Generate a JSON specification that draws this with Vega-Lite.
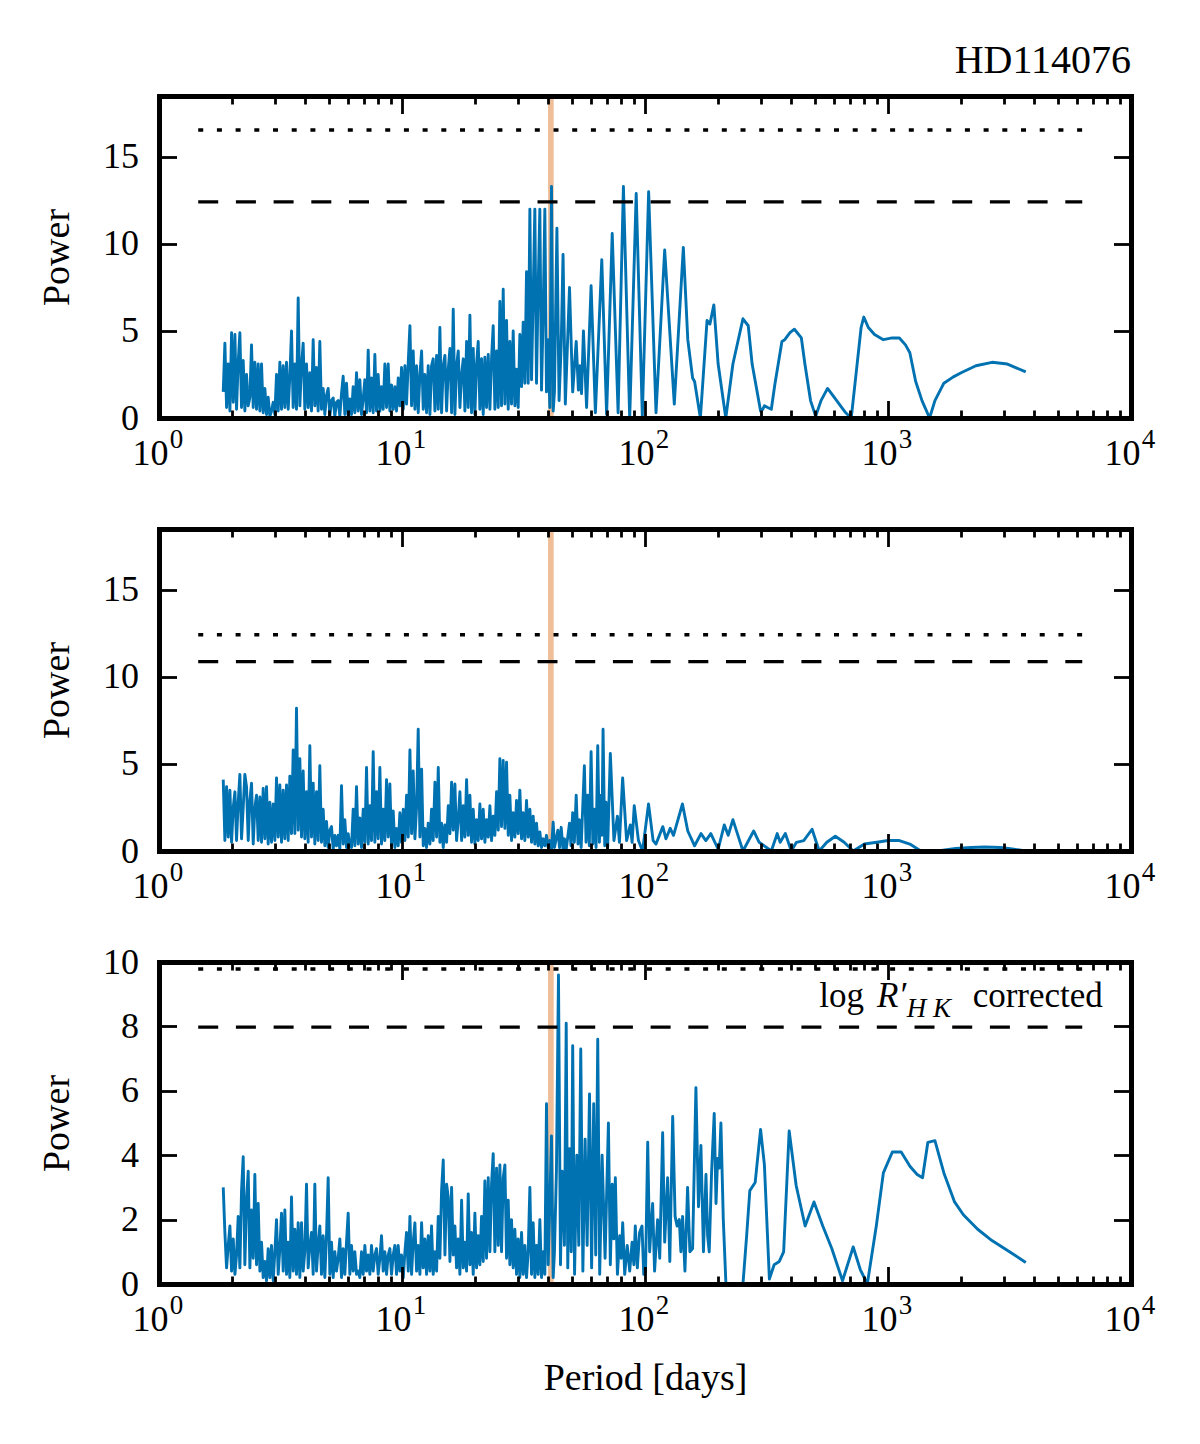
{
 "$schema": "https://vega.github.io/schema/vega-lite/v6.json",
 "background": "white",
 "padding": {"left": 38, "top": 40, "right": 5, "bottom": 5},
 "spacing": 111,
 "bounds": "flush",
 "config": {
  "view": {"stroke": null},
  "font": "Liberation Serif",
  "axis": {"domainColor": "black", "domainWidth": 5, "domainCap": "square", "tickColor": "black", "tickWidth": 2.8, "tickCap": "butt", "labelFont": "Liberation Serif", "labelFontSize": 36, "labelColor": "black", "titleFont": "Liberation Serif", "titleFontSize": 38, "titleFontWeight": "normal", "titleColor": "black", "grid": false, "labelFlush": false, "labelOverlap": false, "labelBound": false},
  "title": {"font": "Liberation Serif", "fontSize": 40, "fontWeight": "normal", "color": "black"}
 },
 "datasets": {
  "p1": [
{"p":1.838,"v":1.5},{"p":1.867,"v":4.3},{"p":1.897,"v":0.6},{"p":1.927,"v":3.1},{"p":1.958,"v":0.4},{"p":1.989,"v":4.9},{"p":2.021,"v":0.9},{"p":2.053,"v":4.8},{"p":2.085,"v":0.5},{"p":2.118,"v":3.2},{"p":2.152,"v":4.9},{"p":2.186,"v":0.6},{"p":2.221,"v":3.3},{"p":2.256,"v":0.4},{"p":2.292,"v":2.5},{"p":2.329,"v":0.7},{"p":2.366,"v":1.2},{"p":2.403,"v":4.2},{"p":2.442,"v":0.6},{"p":2.48,"v":3.2},{"p":2.52,"v":0.5},{"p":2.56,"v":3.1},{"p":2.601,"v":0.4},{"p":2.642,"v":3.1},{"p":2.684,"v":0.3},{"p":2.727,"v":1.7},{"p":2.77,"v":0.2},{"p":2.814,"v":1.2},{"p":2.859,"v":0.1},{"p":2.904,"v":0.4},{"p":2.951,"v":0.9},{"p":2.998,"v":0.2},{"p":3.045,"v":2.5},{"p":3.094,"v":0.4},{"p":3.143,"v":3.2},{"p":3.193,"v":0.5},{"p":3.244,"v":3.0},{"p":3.295,"v":0.6},{"p":3.348,"v":3.2},{"p":3.401,"v":0.5},{"p":3.455,"v":2.4},{"p":3.51,"v":5.0},{"p":3.566,"v":0.6},{"p":3.623,"v":3.1},{"p":3.68,"v":0.5},{"p":3.739,"v":6.9},{"p":3.798,"v":0.7},{"p":3.859,"v":3.0},{"p":3.92,"v":4.3},{"p":3.982,"v":0.5},{"p":4.046,"v":3.1},{"p":4.11,"v":0.6},{"p":4.176,"v":2.6},{"p":4.242,"v":0.4},{"p":4.31,"v":4.5},{"p":4.378,"v":0.7},{"p":4.448,"v":2.9},{"p":4.518,"v":0.4},{"p":4.59,"v":4.4},{"p":4.663,"v":0.5},{"p":4.738,"v":1.7},{"p":4.813,"v":0.2},{"p":4.89,"v":1.3},{"p":4.968,"v":1.7},{"p":5.047,"v":0.1},{"p":5.127,"v":1.0},{"p":5.209,"v":1.15},{"p":5.292,"v":0.1},{"p":5.376,"v":0.9},{"p":5.462,"v":1.0},{"p":5.549,"v":0.1},{"p":5.637,"v":1.4},{"p":5.727,"v":2.4},{"p":5.818,"v":0.2},{"p":5.911,"v":2.0},{"p":6.005,"v":0.1},{"p":6.1,"v":1.1},{"p":6.198,"v":0.2},{"p":6.296,"v":1.8},{"p":6.397,"v":0.3},{"p":6.499,"v":2.6},{"p":6.602,"v":0.4},{"p":6.707,"v":2.2},{"p":6.814,"v":0.2},{"p":6.923,"v":1.1},{"p":7.033,"v":2.2},{"p":7.145,"v":0.3},{"p":7.259,"v":3.9},{"p":7.374,"v":0.4},{"p":7.492,"v":2.3},{"p":7.611,"v":0.3},{"p":7.732,"v":3.65},{"p":7.855,"v":0.4},{"p":7.98,"v":2.5},{"p":8.108,"v":0.4},{"p":8.237,"v":1.8},{"p":8.368,"v":0.5},{"p":8.501,"v":3.1},{"p":8.637,"v":0.6},{"p":8.774,"v":3.1},{"p":8.914,"v":0.4},{"p":9.056,"v":1.9},{"p":9.2,"v":0.5},{"p":9.347,"v":1.8},{"p":9.496,"v":0.4},{"p":9.647,"v":2.3},{"p":9.801,"v":0.7},{"p":9.957,"v":2.9},{"p":10.12,"v":0.5},{"p":10.28,"v":3.0},{"p":10.44,"v":0.8},{"p":10.61,"v":3.2},{"p":10.78,"v":5.3},{"p":10.95,"v":0.7},{"p":11.12,"v":3.85},{"p":11.3,"v":0.5},{"p":11.48,"v":3.0},{"p":11.66,"v":0.3},{"p":11.85,"v":2.5},{"p":12.04,"v":3.85},{"p":12.23,"v":0.5},{"p":12.42,"v":2.5},{"p":12.62,"v":0.3},{"p":12.82,"v":3.0},{"p":13.03,"v":0.2},{"p":13.23,"v":3.0},{"p":13.44,"v":3.4},{"p":13.66,"v":0.4},{"p":13.88,"v":3.6},{"p":14.1,"v":0.5},{"p":14.32,"v":5.2},{"p":14.55,"v":0.3},{"p":14.78,"v":3.0},{"p":15.02,"v":3.6},{"p":15.26,"v":0.4},{"p":15.5,"v":2.8},{"p":15.75,"v":4.0},{"p":16.0,"v":0.3},{"p":16.25,"v":6.25},{"p":16.51,"v":0.2},{"p":16.77,"v":3.0},{"p":17.04,"v":3.85},{"p":17.31,"v":0.6},{"p":17.59,"v":2.5},{"p":17.87,"v":3.4},{"p":18.15,"v":0.4},{"p":18.44,"v":4.4},{"p":18.73,"v":0.6},{"p":19.03,"v":5.9},{"p":19.33,"v":0.3},{"p":19.64,"v":4.0},{"p":19.95,"v":0.2},{"p":20.27,"v":3.1},{"p":20.59,"v":4.4},{"p":20.92,"v":0.5},{"p":21.25,"v":3.4},{"p":21.59,"v":0.2},{"p":21.93,"v":3.5},{"p":22.28,"v":0.6},{"p":22.64,"v":3.65},{"p":23.0,"v":0.5},{"p":23.36,"v":3.4},{"p":23.73,"v":5.3},{"p":24.11,"v":0.5},{"p":24.5,"v":3.85},{"p":24.89,"v":0.6},{"p":25.28,"v":6.7},{"p":25.68,"v":0.7},{"p":26.09,"v":7.4},{"p":26.51,"v":0.8},{"p":26.93,"v":5.6},{"p":27.36,"v":0.5},{"p":27.79,"v":4.4},{"p":28.23,"v":0.8},{"p":28.68,"v":5.0},{"p":29.14,"v":0.7},{"p":29.6,"v":2.8},{"p":30.07,"v":0.6},{"p":30.55,"v":4.8},{"p":31.04,"v":1.8},{"p":31.53,"v":5.5},{"p":32.03,"v":2.0},{"p":32.54,"v":8.4},{"p":33.06,"v":2.0},{"p":33.59,"v":12.0},{"p":34.12,"v":2.2},{"p":34.66,"v":7.0},{"p":35.21,"v":12.0},{"p":35.77,"v":2.0},{"p":36.34,"v":7.5},{"p":36.92,"v":12.0},{"p":37.51,"v":1.6},{"p":38.1,"v":6.0},{"p":38.71,"v":12.0},{"p":39.32,"v":1.5},{"p":39.95,"v":4.5},{"p":40.58,"v":0.6},{"p":41.23,"v":13.3},{"p":41.89,"v":0.4},
{"p":42.4,"v":1.5},{"p":43.4,"v":10.9},{"p":44.3,"v":1.0},{"p":45.2,"v":4.2},{"p":46.0,"v":9.4},{"p":47.0,"v":0.8},{"p":48.9,"v":7.5},{"p":50.4,"v":1.5},{"p":52.1,"v":4.4},{"p":53.2,"v":1.6},{"p":54.0,"v":3.0},{"p":54.8,"v":1.4},{"p":55.8,"v":5.0},{"p":57.5,"v":0.6},{"p":60.0,"v":7.6},{"p":62.5,"v":0.3},{"p":66.4,"v":9.1},{"p":69.5,"v":0.2},{"p":73.3,"v":10.6},{"p":77.5,"v":0.3},{"p":81.5,"v":13.3},{"p":86.5,"v":0.0},{"p":92.0,"v":12.9},{"p":97.5,"v":0.1},{"p":103.5,"v":13.0},{"p":111,"v":0.3},{"p":120.5,"v":9.65},{"p":132,"v":0.8},{"p":143.8,"v":9.8},{"p":150,"v":4.5},{"p":157,"v":2.3},{"p":160,"v":2.1},{"p":169,"v":0.0},{"p":180,"v":5.6},{"p":185,"v":5.4},{"p":192,"v":6.5},{"p":200,"v":3.1},{"p":215,"v":0.0},{"p":230,"v":3.1},{"p":253,"v":5.7},{"p":266,"v":5.3},{"p":276,"v":3.1},{"p":299,"v":0.4},{"p":305,"v":0.5},{"p":310,"v":0.7},{"p":320,"v":0.6},{"p":331,"v":0.5},{"p":342,"v":1.9},{"p":366,"v":4.4},{"p":376,"v":4.5},{"p":395,"v":4.9},{"p":412,"v":5.1},{"p":440,"v":4.6},{"p":455,"v":3.1},{"p":480,"v":1.0},{"p":504,"v":0.1},{"p":530,"v":1.0},{"p":564,"v":1.7},{"p":600,"v":1.2},{"p":630,"v":0.8},{"p":670,"v":0.3},{"p":706,"v":0.0},{"p":745,"v":3.0},{"p":775,"v":5.2},{"p":795,"v":5.8},{"p":830,"v":5.2},{"p":880,"v":4.8},{"p":957,"v":4.5},{"p":1040,"v":4.6},{"p":1114,"v":4.6},{"p":1180,"v":4.2},{"p":1230,"v":3.75},{"p":1300,"v":2.1},{"p":1380,"v":1.0},{"p":1483,"v":0.0},{"p":1560,"v":1.0},{"p":1698,"v":2.0},{"p":1850,"v":2.35},{"p":2000,"v":2.6},{"p":2300,"v":3.0},{"p":2680,"v":3.2},{"p":3100,"v":3.1},{"p":3690,"v":2.65}
  ],
  "p2": [
{"p":1.838,"v":4.1},{"p":1.867,"v":0.6},{"p":1.897,"v":3.7},{"p":1.927,"v":0.8},{"p":1.958,"v":3.5},{"p":1.989,"v":0.5},{"p":2.021,"v":2.5},{"p":2.053,"v":3.4},{"p":2.085,"v":0.6},{"p":2.118,"v":2.8},{"p":2.152,"v":4.4},{"p":2.186,"v":0.7},{"p":2.221,"v":2.5},{"p":2.256,"v":4.4},{"p":2.292,"v":3.7},{"p":2.329,"v":0.6},{"p":2.366,"v":2.9},{"p":2.403,"v":3.9},{"p":2.442,"v":0.4},{"p":2.48,"v":2.5},{"p":2.52,"v":3.2},{"p":2.56,"v":0.6},{"p":2.601,"v":3.1},{"p":2.642,"v":0.5},{"p":2.684,"v":3.6},{"p":2.727,"v":0.7},{"p":2.77,"v":3.7},{"p":2.814,"v":0.4},{"p":2.859,"v":2.8},{"p":2.904,"v":0.5},{"p":2.951,"v":2.7},{"p":2.998,"v":0.6},{"p":3.045,"v":4.2},{"p":3.094,"v":0.8},{"p":3.143,"v":3.8},{"p":3.193,"v":0.5},{"p":3.244,"v":3.5},{"p":3.295,"v":0.7},{"p":3.348,"v":3.8},{"p":3.401,"v":0.6},{"p":3.455,"v":4.3},{"p":3.51,"v":1.0},{"p":3.566,"v":5.8},{"p":3.623,"v":1.0},{"p":3.68,"v":8.2},{"p":3.739,"v":1.2},{"p":3.798,"v":5.3},{"p":3.859,"v":0.8},{"p":3.92,"v":4.6},{"p":3.982,"v":0.7},{"p":4.046,"v":3.4},{"p":4.11,"v":0.5},{"p":4.176,"v":6.05},{"p":4.242,"v":0.8},{"p":4.31,"v":3.9},{"p":4.378,"v":0.4},{"p":4.448,"v":3.4},{"p":4.518,"v":0.6},{"p":4.59,"v":4.9},{"p":4.663,"v":0.5},{"p":4.738,"v":2.4},{"p":4.813,"v":0.3},{"p":4.89,"v":1.7},{"p":4.968,"v":0.2},{"p":5.047,"v":1.2},{"p":5.127,"v":1.4},{"p":5.209,"v":0.1},{"p":5.292,"v":0.9},{"p":5.376,"v":0.3},{"p":5.462,"v":0.9},{"p":5.549,"v":0.1},{"p":5.637,"v":3.75},{"p":5.727,"v":0.4},{"p":5.818,"v":1.8},{"p":5.911,"v":0.2},{"p":6.005,"v":1.0},{"p":6.1,"v":0.3},{"p":6.198,"v":0.2},{"p":6.296,"v":2.4},{"p":6.397,"v":0.3},{"p":6.499,"v":3.7},{"p":6.602,"v":0.4},{"p":6.707,"v":1.9},{"p":6.814,"v":0.2},{"p":6.923,"v":2.4},{"p":7.033,"v":0.5},{"p":7.145,"v":4.8},{"p":7.259,"v":0.4},{"p":7.374,"v":2.6},{"p":7.492,"v":0.6},{"p":7.611,"v":5.7},{"p":7.732,"v":0.5},{"p":7.855,"v":3.4},{"p":7.98,"v":0.7},{"p":8.108,"v":4.8},{"p":8.237,"v":0.4},{"p":8.368,"v":2.4},{"p":8.501,"v":0.6},{"p":8.637,"v":4.1},{"p":8.774,"v":0.8},{"p":8.914,"v":3.85},{"p":9.056,"v":0.3},{"p":9.2,"v":2.3},{"p":9.347,"v":0.2},{"p":9.496,"v":1.3},{"p":9.647,"v":0.3},{"p":9.801,"v":2.2},{"p":9.957,"v":0.5},{"p":10.12,"v":2.4},{"p":10.28,"v":0.6},{"p":10.44,"v":3.2},{"p":10.61,"v":0.8},{"p":10.78,"v":5.8},{"p":10.95,"v":1.0},{"p":11.12,"v":4.6},{"p":11.3,"v":0.7},{"p":11.48,"v":2.5},{"p":11.66,"v":7.0},{"p":11.85,"v":0.8},{"p":12.04,"v":4.7},{"p":12.23,"v":0.3},{"p":12.42,"v":1.3},{"p":12.62,"v":0.2},{"p":12.82,"v":1.6},{"p":13.03,"v":0.4},{"p":13.23,"v":2.4},{"p":13.44,"v":0.6},{"p":13.66,"v":3.95},{"p":13.88,"v":0.8},{"p":14.1,"v":4.8},{"p":14.32,"v":0.5},{"p":14.55,"v":1.6},{"p":14.78,"v":0.2},{"p":15.02,"v":1.5},{"p":15.26,"v":0.5},{"p":15.5,"v":2.6},{"p":15.75,"v":1.0},{"p":16.0,"v":3.95},{"p":16.25,"v":1.2},{"p":16.51,"v":3.85},{"p":16.77,"v":0.6},{"p":17.04,"v":1.8},{"p":17.31,"v":3.4},{"p":17.59,"v":0.6},{"p":17.87,"v":2.6},{"p":18.15,"v":0.8},{"p":18.44,"v":4.1},{"p":18.73,"v":0.9},{"p":19.03,"v":3.2},{"p":19.33,"v":0.5},{"p":19.64,"v":2.4},{"p":19.95,"v":0.4},{"p":20.27,"v":1.8},{"p":20.59,"v":0.6},{"p":20.92,"v":2.7},{"p":21.25,"v":0.7},{"p":21.59,"v":2.4},{"p":21.93,"v":0.5},{"p":22.28,"v":1.8},{"p":22.64,"v":0.8},{"p":23.0,"v":2.6},{"p":23.36,"v":0.6},{"p":23.73,"v":2.0},{"p":24.11,"v":0.9},{"p":24.5,"v":3.4},{"p":24.89,"v":1.2},{"p":25.28,"v":5.3},{"p":25.68,"v":1.4},{"p":26.09,"v":5.2},{"p":26.51,"v":1.3},{"p":26.93,"v":5.1},{"p":27.36,"v":0.9},{"p":27.79,"v":3.2},{"p":28.23,"v":0.6},{"p":28.68,"v":2.2},{"p":29.14,"v":0.8},{"p":29.6,"v":2.9},{"p":30.07,"v":1.0},{"p":30.55,"v":3.5},{"p":31.04,"v":0.7},{"p":31.53,"v":2.2},{"p":32.03,"v":0.6},{"p":32.54,"v":2.9},{"p":33.06,"v":0.8},{"p":33.59,"v":2.4},{"p":34.12,"v":0.5},{"p":34.66,"v":2.0},{"p":35.21,"v":0.4},{"p":35.77,"v":1.6},{"p":36.34,"v":0.3},{"p":36.92,"v":1.1},{"p":37.51,"v":0.2},{"p":38.1,"v":0.7},{"p":38.71,"v":0.3},{"p":39.32,"v":0.9},{"p":39.95,"v":0.2},{"p":40.58,"v":0.6},{"p":41.23,"v":0.1},{"p":41.89,"v":1.65},
{"p":42.4,"v":0.2},{"p":43.8,"v":1.2},{"p":44.5,"v":0.2},{"p":45.2,"v":1.36},{"p":46.0,"v":0.1},{"p":46.6,"v":0.7},{"p":47.4,"v":0.1},{"p":48.9,"v":1.6},{"p":49.6,"v":0.3},{"p":50.4,"v":2.2},{"p":51.2,"v":0.5},{"p":52.1,"v":3.2},{"p":53.0,"v":0.4},{"p":53.7,"v":1.8},{"p":54.6,"v":0.2},{"p":56.3,"v":4.9},{"p":57.2,"v":0.5},{"p":58.1,"v":3.2},{"p":59.0,"v":0.3},{"p":60.0,"v":5.7},{"p":61.0,"v":0.4},{"p":61.9,"v":2.4},{"p":62.9,"v":0.2},{"p":63.9,"v":6.05},{"p":64.9,"v":0.5},{"p":65.9,"v":3.2},{"p":66.5,"v":0.9},{"p":67.2,"v":7.0},{"p":68.3,"v":0.3},{"p":69.1,"v":2.8},{"p":70.2,"v":0.2},{"p":72.0,"v":5.6},{"p":74.5,"v":0.6},{"p":77.0,"v":2.0},{"p":78.5,"v":0.5},{"p":80.9,"v":4.2},{"p":84.0,"v":0.6},{"p":87.0,"v":1.5},{"p":88.5,"v":0.5},{"p":90.3,"v":2.6},{"p":94.0,"v":0.6},{"p":97.7,"v":0.0},{"p":103.4,"v":2.7},{"p":108,"v":0.6},{"p":111,"v":0.4},{"p":118.4,"v":1.4},{"p":122,"v":0.7},{"p":127,"v":1.3},{"p":131,"v":0.9},{"p":142.6,"v":2.7},{"p":150,"v":1.15},{"p":160,"v":0.3},{"p":170,"v":1.0},{"p":178,"v":0.6},{"p":186.6,"v":1.0},{"p":200,"v":0.1},{"p":212,"v":1.5},{"p":220,"v":0.9},{"p":230,"v":1.8},{"p":240,"v":1.0},{"p":253,"v":0.0},{"p":280,"v":1.15},{"p":295,"v":0.5},{"p":331,"v":0.0},{"p":350,"v":1.0},{"p":360,"v":0.5},{"p":378,"v":1.0},{"p":400,"v":0.0},{"p":420,"v":0.5},{"p":450,"v":0.6},{"p":487,"v":1.25},{"p":521,"v":0.0},{"p":560,"v":0.5},{"p":607,"v":0.85},{"p":660,"v":0.5},{"p":719,"v":0.0},{"p":800,"v":0.4},{"p":900,"v":0.5},{"p":1000,"v":0.6},{"p":1114,"v":0.6},{"p":1230,"v":0.4},{"p":1365,"v":0.0},{"p":1600,"v":0.0},{"p":1900,"v":0.15},{"p":2200,"v":0.2},{"p":2502,"v":0.23},{"p":2900,"v":0.2},{"p":3300,"v":0.1},{"p":3690,"v":0.0}
  ],
  "p3": [
{"p":1.838,"v":3.0},{"p":1.867,"v":1.6},{"p":1.897,"v":0.5},{"p":1.927,"v":1.2},{"p":1.958,"v":1.8},{"p":1.989,"v":0.4},{"p":2.021,"v":1.4},{"p":2.053,"v":0.3},{"p":2.085,"v":0.9},{"p":2.118,"v":2.1},{"p":2.152,"v":0.5},{"p":2.186,"v":2.9},{"p":2.221,"v":3.95},{"p":2.256,"v":0.6},{"p":2.292,"v":2.6},{"p":2.329,"v":3.5},{"p":2.366,"v":0.5},{"p":2.403,"v":2.3},{"p":2.442,"v":0.8},{"p":2.48,"v":3.4},{"p":2.52,"v":0.6},{"p":2.56,"v":2.5},{"p":2.601,"v":0.4},{"p":2.642,"v":1.3},{"p":2.684,"v":0.2},{"p":2.727,"v":0.7},{"p":2.77,"v":0.1},{"p":2.814,"v":1.1},{"p":2.859,"v":0.2},{"p":2.904,"v":1.2},{"p":2.951,"v":0.1},{"p":2.998,"v":1.0},{"p":3.045,"v":2.0},{"p":3.094,"v":0.3},{"p":3.143,"v":1.1},{"p":3.193,"v":2.2},{"p":3.244,"v":0.4},{"p":3.295,"v":2.3},{"p":3.348,"v":0.3},{"p":3.401,"v":1.3},{"p":3.455,"v":0.2},{"p":3.51,"v":2.7},{"p":3.566,"v":0.4},{"p":3.623,"v":1.7},{"p":3.68,"v":0.3},{"p":3.739,"v":1.9},{"p":3.798,"v":0.2},{"p":3.859,"v":1.9},{"p":3.92,"v":0.4},{"p":3.982,"v":1.0},{"p":4.046,"v":3.1},{"p":4.11,"v":0.5},{"p":4.176,"v":1.2},{"p":4.242,"v":1.6},{"p":4.31,"v":0.3},{"p":4.378,"v":3.1},{"p":4.448,"v":0.4},{"p":4.518,"v":1.2},{"p":4.59,"v":1.8},{"p":4.663,"v":0.3},{"p":4.738,"v":1.5},{"p":4.813,"v":0.2},{"p":4.89,"v":1.5},{"p":4.968,"v":3.3},{"p":5.047,"v":0.3},{"p":5.127,"v":1.3},{"p":5.209,"v":0.2},{"p":5.292,"v":1.0},{"p":5.376,"v":0.4},{"p":5.462,"v":0.8},{"p":5.549,"v":1.4},{"p":5.637,"v":0.2},{"p":5.727,"v":1.1},{"p":5.818,"v":0.3},{"p":5.911,"v":1.3},{"p":6.005,"v":2.2},{"p":6.1,"v":0.3},{"p":6.198,"v":1.2},{"p":6.296,"v":0.4},{"p":6.397,"v":1.0},{"p":6.499,"v":0.3},{"p":6.602,"v":0.4},{"p":6.707,"v":0.2},{"p":6.814,"v":1.0},{"p":6.923,"v":0.3},{"p":7.033,"v":1.2},{"p":7.145,"v":0.4},{"p":7.259,"v":0.9},{"p":7.374,"v":0.3},{"p":7.492,"v":1.2},{"p":7.611,"v":0.4},{"p":7.732,"v":0.9},{"p":7.855,"v":1.1},{"p":7.98,"v":0.3},{"p":8.108,"v":0.8},{"p":8.237,"v":1.5},{"p":8.368,"v":0.4},{"p":8.501,"v":1.0},{"p":8.637,"v":0.3},{"p":8.774,"v":0.9},{"p":8.914,"v":1.1},{"p":9.056,"v":0.3},{"p":9.2,"v":0.9},{"p":9.347,"v":1.2},{"p":9.496,"v":0.3},{"p":9.647,"v":1.2},{"p":9.801,"v":0.4},{"p":9.957,"v":0.9},{"p":10.12,"v":0.2},{"p":10.28,"v":1.0},{"p":10.44,"v":1.6},{"p":10.61,"v":0.4},{"p":10.78,"v":2.1},{"p":10.95,"v":0.3},{"p":11.12,"v":1.3},{"p":11.3,"v":1.9},{"p":11.48,"v":0.4},{"p":11.66,"v":1.2},{"p":11.85,"v":0.3},{"p":12.04,"v":1.9},{"p":12.23,"v":0.5},{"p":12.42,"v":1.4},{"p":12.62,"v":0.3},{"p":12.82,"v":1.5},{"p":13.03,"v":0.4},{"p":13.23,"v":1.8},{"p":13.44,"v":0.3},{"p":13.66,"v":1.0},{"p":13.88,"v":0.4},{"p":14.1,"v":2.1},{"p":14.32,"v":0.8},{"p":14.55,"v":2.9},{"p":14.78,"v":3.85},{"p":15.02,"v":0.9},{"p":15.26,"v":3.1},{"p":15.5,"v":2.7},{"p":15.75,"v":0.7},{"p":16.0,"v":3.0},{"p":16.25,"v":0.9},{"p":16.51,"v":1.8},{"p":16.77,"v":0.5},{"p":17.04,"v":1.4},{"p":17.31,"v":0.3},{"p":17.59,"v":2.6},{"p":17.87,"v":0.5},{"p":18.15,"v":1.3},{"p":18.44,"v":0.4},{"p":18.73,"v":2.8},{"p":19.03,"v":0.6},{"p":19.33,"v":1.6},{"p":19.64,"v":0.3},{"p":19.95,"v":2.2},{"p":20.27,"v":0.5},{"p":20.59,"v":1.5},{"p":20.92,"v":0.6},{"p":21.25,"v":2.1},{"p":21.59,"v":0.7},{"p":21.93,"v":3.2},{"p":22.28,"v":0.8},{"p":22.64,"v":3.3},{"p":23.0,"v":1.0},{"p":23.36,"v":3.1},{"p":23.73,"v":4.05},{"p":24.11,"v":1.0},{"p":24.5,"v":3.6},{"p":24.89,"v":1.2},{"p":25.28,"v":3.7},{"p":25.68,"v":1.0},{"p":26.09,"v":3.3},{"p":26.51,"v":3.7},{"p":26.93,"v":0.8},{"p":27.36,"v":2.6},{"p":27.79,"v":0.6},{"p":28.23,"v":2.0},{"p":28.68,"v":0.5},{"p":29.14,"v":1.7},{"p":29.6,"v":0.3},{"p":30.07,"v":1.4},{"p":30.55,"v":0.2},{"p":31.04,"v":1.6},{"p":31.53,"v":0.3},{"p":32.03,"v":1.2},{"p":32.54,"v":0.2},{"p":33.06,"v":1.0},{"p":33.59,"v":3.0},{"p":34.12,"v":0.3},{"p":34.66,"v":1.9},{"p":35.21,"v":0.2},{"p":35.77,"v":1.2},{"p":36.34,"v":0.3},{"p":36.92,"v":2.0},{"p":37.51,"v":0.2},{"p":38.1,"v":1.0},{"p":38.71,"v":0.3},{"p":39.32,"v":5.6},{"p":39.95,"v":0.6},{"p":40.58,"v":2.5},{"p":41.23,"v":4.6},{"p":41.89,"v":0.2},
{"p":42.4,"v":1.0},{"p":43.2,"v":3.5},{"p":44.05,"v":9.6},{"p":44.9,"v":0.6},{"p":45.6,"v":3.5},{"p":46.6,"v":1.2},{"p":47.4,"v":8.1},{"p":48.1,"v":0.5},{"p":48.9,"v":4.2},{"p":49.7,"v":1.0},{"p":50.4,"v":7.4},{"p":51.3,"v":0.3},{"p":52.4,"v":4.0},{"p":53.4,"v":1.2},{"p":54.4,"v":7.3},{"p":55.5,"v":0.4},{"p":56.7,"v":4.5},{"p":57.8,"v":1.2},{"p":59.1,"v":5.9},{"p":60.3,"v":0.5},{"p":61.5,"v":5.6},{"p":62.7,"v":0.9},{"p":63.9,"v":7.6},{"p":65.1,"v":0.3},{"p":66.6,"v":4.0},{"p":68.5,"v":0.8},{"p":70.7,"v":5.0},{"p":72.0,"v":0.6},{"p":73.3,"v":3.1},{"p":74.4,"v":1.4},{"p":75.5,"v":3.3},{"p":77.0,"v":0.3},{"p":78.7,"v":1.5},{"p":79.8,"v":0.8},{"p":80.95,"v":1.9},{"p":82.5,"v":0.3},{"p":84.5,"v":1.2},{"p":86.5,"v":0.4},{"p":88.5,"v":1.3},{"p":90.0,"v":0.6},{"p":91.2,"v":1.8},{"p":93.0,"v":0.5},{"p":95.0,"v":1.6},{"p":97.2,"v":1.8},{"p":98.8,"v":0.3},{"p":100.5,"v":0.4},{"p":102.6,"v":4.4},{"p":104.5,"v":1.0},{"p":106.0,"v":1.8},{"p":107.5,"v":2.5},{"p":109.5,"v":0.4},{"p":112.7,"v":2.0},{"p":115.0,"v":0.8},{"p":118.2,"v":4.7},{"p":120.5,"v":1.3},{"p":123.9,"v":3.3},{"p":126.5,"v":0.7},{"p":130.0,"v":5.2},{"p":133.0,"v":2.1},{"p":135.5,"v":1.8},{"p":138.4,"v":2.0},{"p":140.5,"v":1.0},{"p":142.8,"v":2.1},{"p":146.0,"v":0.4},{"p":149.7,"v":3.0},{"p":153.0,"v":1.0},{"p":157.0,"v":1.1},{"p":162.0,"v":6.1},{"p":166.0,"v":2.4},{"p":169.9,"v":4.3},{"p":174.0,"v":1.0},{"p":178.2,"v":3.4},{"p":181.0,"v":1.5},{"p":183.8,"v":1.0},{"p":188.0,"v":3.5},{"p":192.7,"v":5.3},{"p":196.0,"v":2.5},{"p":199.0,"v":3.9},{"p":202.0,"v":3.6},{"p":205.3,"v":5.0},{"p":210.0,"v":2.0},{"p":215.3,"v":0.0},{"p":235,"v":0.0},{"p":253,"v":0.0},{"p":262,"v":1.5},{"p":270,"v":2.9},{"p":284,"v":3.15},{"p":299,"v":4.8},{"p":310,"v":3.7},{"p":325,"v":0.15},{"p":340,"v":0.6},{"p":357,"v":0.7},{"p":372,"v":1.0},{"p":392,"v":4.75},{"p":419,"v":3.05},{"p":456,"v":1.8},{"p":496,"v":2.55},{"p":539,"v":1.8},{"p":587,"v":1.1},{"p":650,"v":0.1},{"p":719,"v":1.15},{"p":769,"v":0.45},{"p":822,"v":0.0},{"p":895,"v":1.8},{"p":957,"v":3.45},{"p":1042,"v":4.1},{"p":1133,"v":4.1},{"p":1233,"v":3.65},{"p":1318,"v":3.4},{"p":1387,"v":3.3},{"p":1459,"v":4.4},{"p":1560,"v":4.45},{"p":1698,"v":3.45},{"p":1879,"v":2.55},{"p":2042,"v":2.15},{"p":2339,"v":1.7},{"p":2678,"v":1.35},{"p":3162,"v":1.0},{"p":3690,"v":0.67}
  ]
 },
 "vconcat": [
  {
   "width": 972, "height": 322,
   "title": {"text": "HD114076", "anchor": "end", "frame": "group", "orient": "top", "baseline": "alphabetic", "offset": -18},
   "layer": [
    {"data": {"values": [{"lo": 39.9, "hi": 42.1}]}, "mark": {"type": "rect", "color": "#efbe99", "clip": true},
     "encoding": {"x": {"field": "lo", "type": "quantitative", "scale": {"type": "log", "domain": [1, 10000], "nice": false},
       "axis": {"orient": "bottom", "zindex": 1, "title": null, "values": [1,2,3,4,5,6,7,8,9,10,20,30,40,50,60,70,80,90,100,200,300,400,500,600,700,800,900,1000,2000,3000,4000,5000,6000,7000,8000,9000,10000],
        "tickSize": {"condition": {"test": "datum.value==1||datum.value==10||datum.value==100||datum.value==1000||datum.value==10000", "value": -17.5}, "value": -8},
        "labelExpr": "datum.value==1||datum.value==10||datum.value==100||datum.value==1000||datum.value==10000?'10':''", "labelPadding": 36, "labelOffset": -9}},
      "x2": {"field": "hi"}}},
    {"data": {"name": "p1"}, "mark": {"type": "line", "color": "#0072b2", "strokeWidth": 2.9, "strokeJoin": "round", "clip": true},
     "encoding": {"x": {"field": "p", "type": "quantitative", "scale": {"type": "log", "domain": [1, 10000], "nice": false},
       "axis": {"orient": "top", "zindex": 1, "title": null, "labels": false, "values": [1,2,3,4,5,6,7,8,9,10,20,30,40,50,60,70,80,90,100,200,300,400,500,600,700,800,900,1000,2000,3000,4000,5000,6000,7000,8000,9000,10000],
        "tickSize": {"condition": {"test": "datum.value==1||datum.value==10||datum.value==100||datum.value==1000||datum.value==10000", "value": -17.5}, "value": -8}}},
      "y": {"field": "v", "type": "quantitative", "scale": {"domain": [0, 18.5], "nice": false},
       "axis": {"orient": "left", "zindex": 1, "values": [0,5,10,15], "tickSize": -17.5, "labelPadding": 38, "title": "Power", "titlePadding": 26}}}},
    {"data": {"values": [{"a": 1.45, "b": 6300, "y": 16.55}]}, "mark": {"type": "rule", "color": "black", "strokeWidth": 3.5, "strokeDash": [5, 13.7]},
     "encoding": {"x": {"field": "a", "type": "quantitative", "scale": {"type": "log", "domain": [1, 10000], "nice": false},
       "axis": {"orient": "bottom", "zindex": 1, "title": null, "domain": false, "tickOpacity": 0, "tickSize": -17.5, "values": [1,10,100,1000,10000], "labelExpr": "datum.value==1?'0':datum.value==10?'1':datum.value==100?'2':datum.value==1000?'3':'4'", "labelFontSize": 27, "labelPadding": 26, "labelOffset": 17}},
      "x2": {"field": "b"},
      "y": {"field": "y", "type": "quantitative", "scale": {"domain": [0, 18.5], "nice": false},
       "axis": {"orient": "right", "zindex": 1, "values": [0,5,10,15], "tickSize": -17.5, "labels": false, "title": null}}}},
    {"data": {"values": [{"a": 1.45, "b": 6300, "y": 12.42}]}, "mark": {"type": "rule", "color": "black", "strokeWidth": 3.2, "strokeDash": [20, 17.7]},
     "encoding": {"x": {"field": "a", "type": "quantitative", "scale": {"type": "log", "domain": [1, 10000], "nice": false}, "axis": null}, "x2": {"field": "b"},
      "y": {"field": "y", "type": "quantitative", "scale": {"domain": [0, 18.5], "nice": false}, "axis": null}}}
   ],
   "resolve": {"axis": {"x": "independent", "y": "independent"}}
  },
  {
   "width": 972, "height": 322,
   "layer": [
    {"data": {"values": [{"lo": 39.9, "hi": 42.1}]}, "mark": {"type": "rect", "color": "#efbe99", "clip": true},
     "encoding": {"x": {"field": "lo", "type": "quantitative", "scale": {"type": "log", "domain": [1, 10000], "nice": false},
       "axis": {"orient": "bottom", "zindex": 1, "title": null, "values": [1,2,3,4,5,6,7,8,9,10,20,30,40,50,60,70,80,90,100,200,300,400,500,600,700,800,900,1000,2000,3000,4000,5000,6000,7000,8000,9000,10000],
        "tickSize": {"condition": {"test": "datum.value==1||datum.value==10||datum.value==100||datum.value==1000||datum.value==10000", "value": -17.5}, "value": -8},
        "labelExpr": "datum.value==1||datum.value==10||datum.value==100||datum.value==1000||datum.value==10000?'10':''", "labelPadding": 36, "labelOffset": -9}},
      "x2": {"field": "hi"}}},
    {"data": {"name": "p2"}, "mark": {"type": "line", "color": "#0072b2", "strokeWidth": 2.9, "strokeJoin": "round", "clip": true},
     "encoding": {"x": {"field": "p", "type": "quantitative", "scale": {"type": "log", "domain": [1, 10000], "nice": false},
       "axis": {"orient": "top", "zindex": 1, "title": null, "labels": false, "values": [1,2,3,4,5,6,7,8,9,10,20,30,40,50,60,70,80,90,100,200,300,400,500,600,700,800,900,1000,2000,3000,4000,5000,6000,7000,8000,9000,10000],
        "tickSize": {"condition": {"test": "datum.value==1||datum.value==10||datum.value==100||datum.value==1000||datum.value==10000", "value": -17.5}, "value": -8}}},
      "y": {"field": "v", "type": "quantitative", "scale": {"domain": [0, 18.5], "nice": false},
       "axis": {"orient": "left", "zindex": 1, "values": [0,5,10,15], "tickSize": -17.5, "labelPadding": 38, "title": "Power", "titlePadding": 26}}}},
    {"data": {"values": [{"a": 1.45, "b": 6300, "y": 12.43}]}, "mark": {"type": "rule", "color": "black", "strokeWidth": 3.5, "strokeDash": [5, 13.7]},
     "encoding": {"x": {"field": "a", "type": "quantitative", "scale": {"type": "log", "domain": [1, 10000], "nice": false},
       "axis": {"orient": "bottom", "zindex": 1, "title": null, "domain": false, "tickOpacity": 0, "tickSize": -17.5, "values": [1,10,100,1000,10000], "labelExpr": "datum.value==1?'0':datum.value==10?'1':datum.value==100?'2':datum.value==1000?'3':'4'", "labelFontSize": 27, "labelPadding": 26, "labelOffset": 17}},
      "x2": {"field": "b"},
      "y": {"field": "y", "type": "quantitative", "scale": {"domain": [0, 18.5], "nice": false},
       "axis": {"orient": "right", "zindex": 1, "values": [0,5,10,15], "tickSize": -17.5, "labels": false, "title": null}}}},
    {"data": {"values": [{"a": 1.45, "b": 6300, "y": 10.88}]}, "mark": {"type": "rule", "color": "black", "strokeWidth": 3.2, "strokeDash": [20, 17.7]},
     "encoding": {"x": {"field": "a", "type": "quantitative", "scale": {"type": "log", "domain": [1, 10000], "nice": false}, "axis": null}, "x2": {"field": "b"},
      "y": {"field": "y", "type": "quantitative", "scale": {"domain": [0, 18.5], "nice": false}, "axis": null}}}
   ],
   "resolve": {"axis": {"x": "independent", "y": "independent"}}
  },
  {
   "width": 972, "height": 322,
   "layer": [
    {"data": {"values": [{"lo": 39.9, "hi": 42.1}]}, "mark": {"type": "rect", "color": "#efbe99", "clip": true},
     "encoding": {"x": {"field": "lo", "type": "quantitative", "scale": {"type": "log", "domain": [1, 10000], "nice": false},
       "axis": {"orient": "bottom", "zindex": 1, "title": "Period [days]", "titlePadding": 12, "values": [1,2,3,4,5,6,7,8,9,10,20,30,40,50,60,70,80,90,100,200,300,400,500,600,700,800,900,1000,2000,3000,4000,5000,6000,7000,8000,9000,10000],
        "tickSize": {"condition": {"test": "datum.value==1||datum.value==10||datum.value==100||datum.value==1000||datum.value==10000", "value": -17.5}, "value": -8},
        "labelExpr": "datum.value==1||datum.value==10||datum.value==100||datum.value==1000||datum.value==10000?'10':''", "labelPadding": 36, "labelOffset": -9}},
      "x2": {"field": "hi"}}},
    {"data": {"name": "p3"}, "mark": {"type": "line", "color": "#0072b2", "strokeWidth": 2.9, "strokeJoin": "round", "clip": true},
     "encoding": {"x": {"field": "p", "type": "quantitative", "scale": {"type": "log", "domain": [1, 10000], "nice": false},
       "axis": {"orient": "top", "zindex": 1, "title": null, "labels": false, "values": [1,2,3,4,5,6,7,8,9,10,20,30,40,50,60,70,80,90,100,200,300,400,500,600,700,800,900,1000,2000,3000,4000,5000,6000,7000,8000,9000,10000],
        "tickSize": {"condition": {"test": "datum.value==1||datum.value==10||datum.value==100||datum.value==1000||datum.value==10000", "value": -17.5}, "value": -8}}},
      "y": {"field": "v", "type": "quantitative", "scale": {"domain": [0, 10], "nice": false},
       "axis": {"orient": "left", "zindex": 1, "values": [0,2,4,6,8,10], "tickSize": -17.5, "labelPadding": 38, "title": "Power", "titlePadding": 26}}}},
    {"data": {"values": [{"a": 1.45, "b": 6300, "y": 9.78}]}, "mark": {"type": "rule", "color": "black", "strokeWidth": 3.5, "strokeDash": [5, 13.7]},
     "encoding": {"x": {"field": "a", "type": "quantitative", "scale": {"type": "log", "domain": [1, 10000], "nice": false},
       "axis": {"orient": "bottom", "zindex": 1, "title": null, "domain": false, "tickOpacity": 0, "tickSize": -17.5, "values": [1,10,100,1000,10000], "labelExpr": "datum.value==1?'0':datum.value==10?'1':datum.value==100?'2':datum.value==1000?'3':'4'", "labelFontSize": 27, "labelPadding": 26, "labelOffset": 17}},
      "x2": {"field": "b"},
      "y": {"field": "y", "type": "quantitative", "scale": {"domain": [0, 10], "nice": false},
       "axis": {"orient": "right", "zindex": 1, "values": [0,2,4,6,8,10], "tickSize": -17.5, "labels": false, "title": null}}}},
    {"data": {"values": [{"a": 1.45, "b": 6300, "y": 7.98}]}, "mark": {"type": "rule", "color": "black", "strokeWidth": 3.2, "strokeDash": [20, 17.7]},
     "encoding": {"x": {"field": "a", "type": "quantitative", "scale": {"type": "log", "domain": [1, 10000], "nice": false}, "axis": null}, "x2": {"field": "b"},
      "y": {"field": "y", "type": "quantitative", "scale": {"domain": [0, 10], "nice": false}, "axis": null}}},
    {"data": {"values": [{"p": 7660, "v": 8.61, "t": "corrected"}]}, "mark": {"type": "text", "align": "right", "baseline": "alphabetic", "font": "Liberation Serif", "fontSize": 35, "color": "black"},
     "encoding": {"x": {"field": "p", "type": "quantitative", "scale": {"type": "log", "domain": [1, 10000], "nice": false}, "axis": null},
      "y": {"field": "v", "type": "quantitative", "scale": {"domain": [0, 10], "nice": false}, "axis": null}, "text": {"field": "t"}}},
    {"data": {"values": [{"p": 1817, "v": 8.28, "t": "H K"}]}, "mark": {"type": "text", "align": "right", "baseline": "alphabetic", "font": "Liberation Serif", "fontStyle": "italic", "fontSize": 27, "color": "black"},
     "encoding": {"x": {"field": "p", "type": "quantitative", "scale": {"type": "log", "domain": [1, 10000], "nice": false}, "axis": null},
      "y": {"field": "v", "type": "quantitative", "scale": {"domain": [0, 10], "nice": false}, "axis": null}, "text": {"field": "t"}}},
    {"data": {"values": [{"p": 1187, "v": 8.61, "t": "R′"}]}, "mark": {"type": "text", "align": "right", "baseline": "alphabetic", "font": "Liberation Serif", "fontStyle": "italic", "fontSize": 35, "color": "black"},
     "encoding": {"x": {"field": "p", "type": "quantitative", "scale": {"type": "log", "domain": [1, 10000], "nice": false}, "axis": null},
      "y": {"field": "v", "type": "quantitative", "scale": {"domain": [0, 10], "nice": false}, "axis": null}, "text": {"field": "t"}}},
    {"data": {"values": [{"p": 797, "v": 8.61, "t": "log"}]}, "mark": {"type": "text", "align": "right", "baseline": "alphabetic", "font": "Liberation Serif", "fontSize": 35, "color": "black"},
     "encoding": {"x": {"field": "p", "type": "quantitative", "scale": {"type": "log", "domain": [1, 10000], "nice": false}, "axis": null},
      "y": {"field": "v", "type": "quantitative", "scale": {"domain": [0, 10], "nice": false}, "axis": null}, "text": {"field": "t"}}}
   ],
   "resolve": {"axis": {"x": "independent", "y": "independent"}}
  }
 ]
}
